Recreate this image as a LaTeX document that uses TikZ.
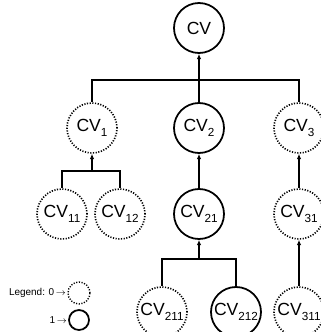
\documentclass[tikz,border=0pt]{standalone}
\usepackage{fontspec}
\setmainfont{Liberation Sans}
\usetikzlibrary{arrows.meta}
\tikzset{
  >=Latex,
  cvon/.style={circle,draw,line width=1.5pt,minimum size=1.5cm,inner sep=0pt,font=\fontsize{15}{18}\selectfont},
  cvoff/.style={cvon,line width=1.4pt,dash pattern=on 1pt off 1.3pt},
  link/.style={line width=1.5pt},
  uplink/.style={link,-{Latex[length=1.6mm,width=1.4mm]}},
  legtext/.style={anchor=east,inner sep=1pt,font=\fontsize{8.5}{10}\selectfont}
}
\newcommand{\cvsub}[1]{CV\raisebox{-0.55ex}{\fontsize{10}{12}\selectfont #1}}

\begin{document}
\begin{tikzpicture}[x=0.03cm,y=-0.03cm]
    \useasboundingbox (0,0) rectangle (321,332);

    % tree nodes
    \node[cvon]  (cv)    at (199,28)  {CV};
    \node[cvoff] (cv1)   at (92,128)  {\cvsub{1}};
    \node[cvon]  (cv2)   at (199,128) {\cvsub{2}};
    \node[cvoff] (cv3)   at (299,128) {\cvsub{3}};
    \node[cvoff] (cv11)  at (62,214)  {\cvsub{11}};
    \node[cvoff] (cv12)  at (120,214) {\cvsub{12}};
    \node[cvon]  (cv21)  at (199,214) {\cvsub{21}};
    \node[cvoff] (cv31)  at (299,214) {\cvsub{31}};
    \node[cvoff] (cv211) at (162,312) {\cvsub{211}};
    \node[cvon]  (cv212) at (236,312) {\cvsub{212}};
    \node[cvoff] (cv311) at (299,312) {\cvsub{311}};

    % joints
    \coordinate (j0) at (199,80);
    \coordinate (j1) at (92,171);
    \coordinate (j2) at (199,259);

    \draw[link] (cv1.north) |- (j0) -| (cv3.north);
    \draw[link] (cv2.north) -- (j0);
    \draw[uplink] (j0) -- (cv.south);

    \draw[link] (cv11.north) |- (j1) -| (cv12.north);
    \draw[uplink] (j1) -- (cv1.south);

    \draw[uplink] (cv21.north) -- (cv2.south);
    \draw[uplink] (cv31.north) -- (cv3.south);

    \draw[link] (cv211.north) |- (j2) -| (cv212.north);
    \draw[uplink] (j2) -- (cv21.south);
    \draw[uplink] (cv311.north) -- (cv31.south);

    % legend
    \node[cvoff,minimum size=0.66cm,line width=1.2pt] (leg0) at (79,293) {};
    \node[cvon,minimum size=0.6cm] (leg1) at (79,320) {};
    \node[legtext] (legt0) at (leg0.west) {Legend: 0\,$\rightarrow$};
    \node[legtext] (legt1) at (leg1.west) {1\,$\rightarrow$};
\end{tikzpicture}
\end{document}
